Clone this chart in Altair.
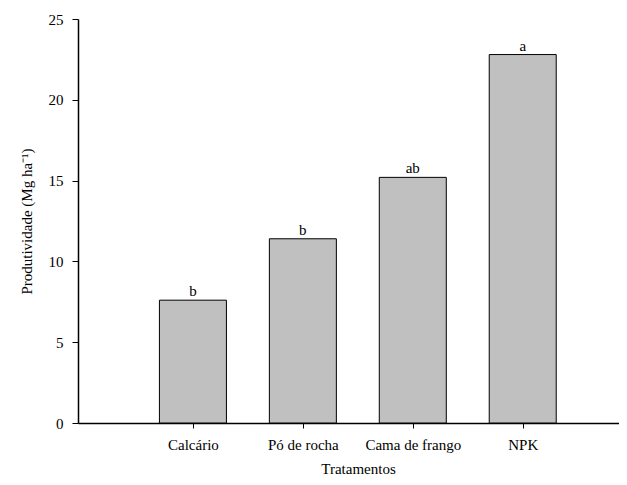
import altair as alt
import pandas as pd

categories = ["Calcário", "Pó de rocha", "Cama de frango", "NPK"]
values = [7.6, 11.4, 15.2, 22.8]
letters = ["b", "b", "ab", "a"]

df = pd.DataFrame({
    "cat": categories,
    "pos": list(range(1, len(categories) + 1)),
    "val": values,
    "letter": letters,
})

label_list = "[''," + ",".join("'" + c + "'" for c in categories) + "]"
FONT = "Times New Roman, Liberation Serif, serif"

x_enc = alt.X(
    "pos:Q",
    scale=alt.Scale(domain=[0, 541 / 112], nice=False, zero=False),
    axis=alt.Axis(
        values=[1, 2, 3, 4],
        labelExpr=label_list + "[datum.value]",
        title="Tratamentos",
        grid=False,
        tickSize=5,
        labelPadding=9,
        titlePadding=9,
        titleX=280,
    ),
)
y_enc = alt.Y(
    "val:Q",
    scale=alt.Scale(domain=[0, 25], nice=False),
    axis=alt.Axis(
        values=[0, 5, 10, 15, 20, 25],
        title="Produtividade (Mg ha⁻¹)",
        grid=False,
        tickSize=6,
        labelPadding=9,
        titlePadding=14,
    ),
)

bars = alt.Chart(df).mark_bar(
    size=67, color="#c0c0c0", stroke="black", strokeWidth=1
).encode(x=x_enc, y=y_enc)

text = alt.Chart(df).mark_text(
    baseline="alphabetic", dy=-4, font=FONT, fontSize=15, color="black"
).encode(x="pos:Q", y="val:Q", text="letter:N")

chart = (
    (bars + text)
    .properties(
        width=541,
        height=404,
        autosize=alt.AutoSizeParams(type="none"),
        padding={"left": 70, "top": 11, "right": 0, "bottom": 54},
        background="white",
    )
    .configure_view(stroke=None)
    .configure_axis(
        labelFont=FONT,
        titleFont=FONT,
        labelFontSize=15,
        titleFontSize=15,
        titleFontWeight="normal",
        labelColor="black",
        titleColor="black",
        domainColor="black",
        tickColor="black",
        domainWidth=1.5,
        tickWidth=1,
    )
)

chart.save("out.html", embed_options={"renderer": "svg", "actions": False})
